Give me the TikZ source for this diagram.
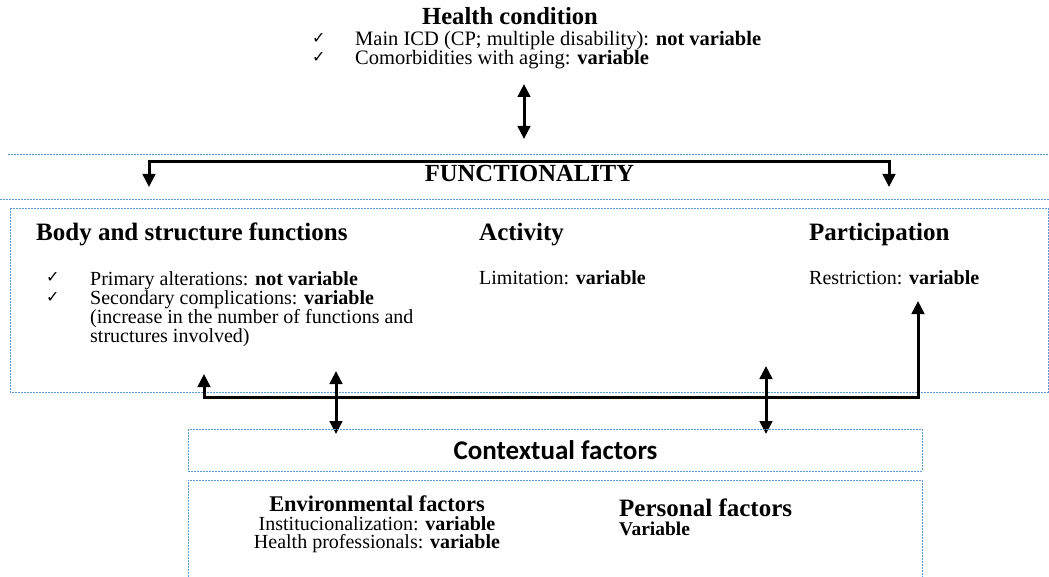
\documentclass[tikz,border=0pt]{standalone}
\usepackage{fontspec}
\setmainfont{Liberation Serif}
\newfontfamily\calib{Carlito}
\newfontfamily\dejavu{DejaVu Sans}
\usetikzlibrary{arrows.meta}
\definecolor{lineblue}{RGB}{91,155,213}
\tikzset{
  txt/.style={inner sep=0pt, anchor=base west, font=\fontsize{20}{24}\selectfont},
  txtc/.style={inner sep=0pt, anchor=base, font=\fontsize{20}{24}\selectfont},
  hdr/.style={inner sep=0pt, anchor=base west, font=\fontsize{25}{30}\selectfont\bfseries},
  chk/.style={inner sep=0pt, anchor=base west, font=\dejavu\fontsize{16}{18}\selectfont},
  blueline/.style={draw=lineblue, line width=0.8pt, dash pattern=on 2pt off 1pt},
  darr/.style={line width=3pt, {Triangle[length=13pt,width=12.5pt]}-{Triangle[length=13pt,width=12.5pt]}},
}
\begin{document}
\begin{tikzpicture}[x=1pt,y=-1pt]
\useasboundingbox (0,0) rectangle (1049,577);
% Health condition
\node[inner sep=0pt, anchor=base, font=\fontsize{24.6}{28}\selectfont\bfseries] (hc) at (510,25) {Health condition};
\node[chk] (c1) at (312,44) {✓};
\node[chk] (c2) at (312,63) {✓};
\node[txt, font=\fontsize{20.5}{24}\selectfont] (hc1) at (355,46) {Main ICD (CP; multiple disability): \textbf{not variable}};
\node[txt, font=\fontsize{20.5}{24}\selectfont] (hc2) at (355,65) {Comorbidities with aging: \textbf{variable}};
\coordinate (ha1) at (524,84);
\coordinate (ha2) at (524,139);
\draw[darr] (ha1) -- (ha2);
% dashed lines
\coordinate (l1a) at (8,154); \coordinate (l1b) at (1049,154);
\coordinate (l2a) at (0,199); \coordinate (l2b) at (1049,199);
\draw[blueline] (l1a) -- (l1b);
\draw[blueline] (l2a) -- (l2b);
% Functionality
\node[inner sep=0pt, anchor=base, font=\fontsize{24.6}{28}\selectfont\bfseries] (fun) at (529.5,182) {FUNCTIONALITY};
\coordinate (fa) at (149,187);
\coordinate (fb) at (889,187);
\draw[darr] (fa) |- (529,162) -| (fb);
% big box
\coordinate (bb1) at (10,208);
\coordinate (bb2) at (1048,392);
\draw[blueline] (bb1) rectangle (bb2);
\node[hdr] (bsf) at (36,241) {Body and structure functions};
\node[chk] (c3) at (46,283) {✓};
\node[chk] (c4) at (46,302) {✓};
\node[txt] (b1) at (90,285) {Primary alterations: \textbf{not variable}};
\node[txt] (b2) at (90,304) {Secondary complications: \textbf{variable}};
\node[txt] (b3) at (90,323) {(increase in the number of functions and};
\node[txt] (b4) at (90,342) {structures involved)};
\node[hdr] (act) at (479,241) {Activity};
\node[txt] (act1) at (479,284) {Limitation: \textbf{variable}};
\node[hdr] (par) at (809,241) {Participation};
\node[txt] (par1) at (809,284) {Restriction: \textbf{variable}};
% connectors
\coordinate (ba) at (204,374);
\coordinate (bp) at (918,301);
\draw[darr] (ba) |- (560,397) -| (bp);
\coordinate (d1a) at (336,371); \coordinate (d1b) at (336,434);
\coordinate (d2a) at (766,366); \coordinate (d2b) at (766,434);
\draw[darr] (d1a) -- (d1b);
\draw[darr] (d2a) -- (d2b);
% contextual
\coordinate (cf1) at (188,429);
\coordinate (cf2) at (922,471);
\draw[blueline] (cf1) rectangle (cf2);
\node[inner sep=0pt, anchor=base, font=\calib\fontsize{27}{30}\selectfont\bfseries] (cf) at (555.5,459) {Contextual factors};
\coordinate (lb1) at (188,577); \coordinate (lb2) at (188,480);
\coordinate (lb3) at (922,480); \coordinate (lb4) at (922,577);
\draw[blueline] (lb1) -- (lb2) -- (lb3) -- (lb4);
\node[inner sep=0pt, anchor=base, font=\fontsize{22.4}{26}\selectfont\bfseries] (env) at (377,511.5) {Environmental factors};
\node[txtc] (env1) at (377,530) {Institucionalization: \textbf{variable}};
\node[txtc] (env2) at (377,548.5) {Health professionals: \textbf{variable}};
\node[inner sep=0pt, anchor=base west, font=\fontsize{25}{30}\selectfont\bfseries] (pf) at (619,516) {Personal factors};
\node[inner sep=0pt, anchor=base west, font=\fontsize{19.5}{24}\selectfont\bfseries] (pf1) at (619,535) {Variable};
\end{tikzpicture}
\end{document}
